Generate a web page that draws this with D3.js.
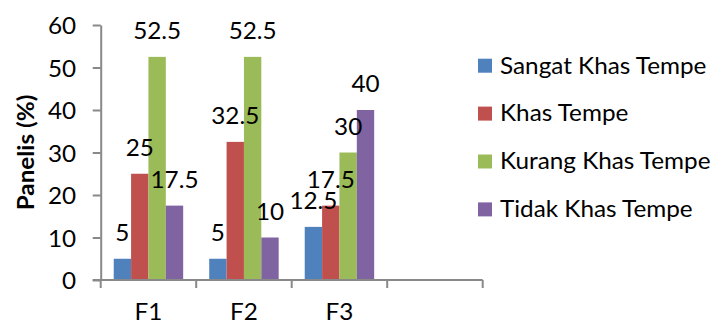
<!DOCTYPE html>
<html>
<head>
<meta charset="utf-8">
<script src="https://cdn.jsdelivr.net/npm/d3@7"></script>
<style>
  html, body { margin: 0; padding: 0; background: #fff; }
  svg text { font-family: Lato, "Open Sans", sans-serif; fill: #000; }
</style>
</head>
<body>
<svg id="chart" width="715" height="324"></svg>
<script>
// Panel ratings per formula
const categories = ["F1", "F2", "F3", ""];
const seriesNames = ["Sangat Khas Tempe", "Khas Tempe", "Kurang Khas Tempe", "Tidak Khas Tempe"];
const sangatKhas = [5, 5, 12.5];
const khas = [25, 32.5, 17.5];
const kurangKhas = [52.5, 52.5, 30];
const tidakKhas = [17.5, 10, 40];
const yTicks = [0, 10, 20, 30, 40, 50, 60];
const colors = ["#4F81BD", "#C0504D", "#9BBB59", "#8064A2"];

const seriesValues = [sangatKhas, khas, kurangKhas, tidakKhas];

const svg = d3.select("#chart");
const plot = { left: 100.7, right: 482.7, top: 25, bottom: 280 };
const fontSize = 22.5;
const stretch = 1.08;          // slightly wide lettering
const axisColor = "#898989";

// place a text element at (px, py) with horizontal stretch
function place(sel, px, py, rot) {
  sel.attr("x", 0).attr("y", 0)
    .attr("transform", (d, i) => {
      const tx = typeof px === "function" ? px(d, i) : px;
      const ty = typeof py === "function" ? py(d, i) : py;
      return `translate(${tx},${ty})` + (rot ? ` rotate(${rot})` : "") + ` scale(${stretch},1)`;
    });
}

const y = d3.scaleLinear().domain([0, 60]).range([plot.bottom, plot.top]);
const x = d3.scaleBand().domain(categories).range([plot.left, plot.right]).padding(0);
const xs = d3.scaleBand().domain(seriesNames).range([0, x.bandwidth()])
  .paddingInner(0).paddingOuter(0.75);

// bars
const bars = [];
seriesNames.forEach((name, si) => {
  seriesValues[si].forEach((v, ci) => {
    bars.push({ name, si, cat: categories[ci], v });
  });
});

svg.append("g").selectAll("rect").data(bars).join("rect")
  .attr("x", d => x(d.cat) + xs(d.name))
  .attr("width", xs.bandwidth())
  .attr("y", d => y(d.v))
  .attr("height", d => y(0) - y(d.v))
  .attr("fill", d => colors[d.si]);

// y axis
const yAxis = d3.axisLeft(y).tickValues(yTicks).tickSize(8).tickSizeOuter(0);
const gy = svg.append("g").attr("transform", `translate(${plot.left},0)`).call(yAxis);
gy.select(".domain").attr("stroke", axisColor).attr("stroke-width", 2);
gy.selectAll(".tick line").attr("stroke", axisColor).attr("stroke-width", 2);
gy.selectAll(".tick text")
  .attr("font-size", fontSize).style("font-family", "Lato")
  .attr("dy", "0.36em").attr("text-anchor", "end")
  .call(place, -24.5, 0.5);

// x axis: ticks at category boundaries
const boundaries = categories.map(c => x(c)).concat([x(categories[categories.length - 1]) + x.bandwidth()]);
const gx = svg.append("g");
gx.append("line")
  .attr("x1", plot.left - 8).attr("x2", plot.right)
  .attr("y1", y(0)).attr("y2", y(0))
  .attr("stroke", axisColor).attr("stroke-width", 2);
gx.selectAll("line.tk").data(boundaries).join("line").attr("class", "tk")
  .attr("x1", d => d).attr("x2", d => d)
  .attr("y1", y(0)).attr("y2", y(0) + 8)
  .attr("stroke", axisColor).attr("stroke-width", 2);
gx.selectAll("text").data(categories.filter(c => c !== "")).join("text")
  .attr("text-anchor", "middle")
  .attr("font-size", fontSize)
  .text(d => d)
  .call(place, d => x(d) + x.bandwidth() / 2, 320);

// value labels
svg.append("g").selectAll("text").data(bars).join("text")
  .attr("text-anchor", "middle")
  .attr("font-size", fontSize)
  .text(d => d.v)
  .call(place, d => x(d.cat) + xs(d.name) + xs.bandwidth() / 2, d => y(d.v) - 18);

// y axis title
svg.append("text")
  .attr("text-anchor", "middle")
  .attr("font-size", fontSize)
  .attr("font-weight", "bold")
  .text("Panelis (%)")
  .call(place, 33.5, (plot.top + plot.bottom) / 2, -90);

// legend
const legend = svg.append("g").attr("transform", "translate(478,65.7)");
const rows = legend.selectAll("g").data(seriesNames).join("g")
  .attr("transform", (d, i) => `translate(0,${i * 47.9})`);
rows.append("rect")
  .attr("x", 0).attr("y", -7).attr("width", 14).attr("height", 14)
  .attr("fill", (d, i) => colors[i]);
rows.append("text")
  .attr("font-size", fontSize)
  .text(d => d)
  .call(place, 22, 7.8);
</script>
</body>
</html>
